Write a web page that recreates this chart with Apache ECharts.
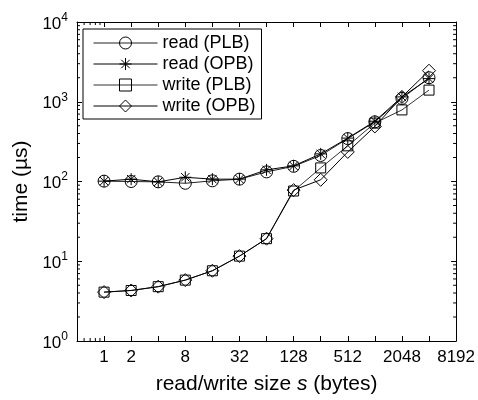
<!DOCTYPE html>
<html>
<head>
<meta charset="utf-8">
<script src="https://cdn.jsdelivr.net/npm/echarts@6.0.0/dist/echarts.min.js"></script>
<style>
  html, body { margin: 0; padding: 0; background: #fff; }
  #chart { width: 478px; height: 400px; }
</style>
</head>
<body>
<div id="chart"></div>
<script>
// read/write size in bytes
const sizes = [1, 2, 4, 8, 16, 32, 64, 128, 256, 512, 1024, 2048, 4096];
// time in microseconds
const readPLB  = [101, 100, 99, 95, 102, 107, 132, 155, 212, 345, 560, 1100, 2000];
const readOPB  = [101, 107, 99, 113, 107, 107, 140, 157, 222, 350, 570, 1150, 1950];
const writePLB = [4.1, 4.3, 4.8, 5.8, 7.6, 11.6, 19.2, 76, 148, 280, 540, 790, 1400];
const writeOPB = [4.1, 4.3, 4.8, 5.8, 7.6, 11.6, 19.2, 78, 105, 235, 490, 1150, 2450];

const xLabels = [1, 2, 8, 32, 128, 512, 2048, 8192];
const yMinorSteps = [2, 3, 4, 5, 6, 7, 8, 9];
const yDecades = [1, 10, 100, 1000];
const xMinorTicks = [0.6, 0.7, 0.8, 0.9];

const FONT = 'Liberation Sans';
const starPath = 'path://M5,0L5,10M0,5L10,5M1.5,1.5L8.5,8.5M1.5,8.5L8.5,1.5';

const chart = echarts.init(document.getElementById('chart'));

const pair = (ys) => sizes.map((s, i) => [s, ys[i]]);

function lineSeries(name, ys, symbol, size, color) {
  return {
    name: name,
    type: 'line',
    data: pair(ys),
    symbol: symbol,
    symbolSize: size,
    showAllSymbol: true,
    itemStyle: { color: 'transparent', borderColor: '#000', borderWidth: 1 },
    lineStyle: { color: color, width: 1 },
    emphasis: { disabled: true },
    z: 3
  };
}

const yMinor = [];
yDecades.forEach(d => yMinorSteps.forEach(m => yMinor.push(d * m)));

// matlab style minor ticks (2..9 per decade) on both sides
const minorTickSeries = {
  type: 'custom',
  silent: true,
  data: yMinor.map(v => [0.5, v]).concat(xMinorTicks.map(v => [v, 1])),
  renderItem: function (params, api) {
    const cs = params.coordSys;
    const idx = params.dataIndex;
    const st = { stroke: '#000', lineWidth: 1 };
    if (idx < yMinor.length) {
      const y = api.coord([0.5, api.value(1)])[1];
      return { type: 'group', children: [
        { type: 'line', shape: { x1: cs.x, y1: y, x2: cs.x + 3, y2: y }, style: st },
        { type: 'line', shape: { x1: cs.x + cs.width - 3, y1: y, x2: cs.x + cs.width, y2: y }, style: st }
      ]};
    }
    const x = api.coord([api.value(0), 1])[0];
    return { type: 'group', children: [
      { type: 'line', shape: { x1: x, y1: cs.y + cs.height, x2: x, y2: cs.y + cs.height - 3 }, style: st },
      { type: 'line', shape: { x1: x, y1: cs.y, x2: x, y2: cs.y + 3 }, style: st }
    ]};
  },
  z: 1
};

const axisBase = {
  axisLine: { show: true, lineStyle: { color: '#000', width: 1 } },
  axisTick: { show: true, inside: true, length: 5, lineStyle: { color: '#000' } },
  splitLine: { show: false },
  minorTick: { show: false },
  minorSplitLine: { show: false }
};

const option = {
  animation: false,
  textStyle: { fontFamily: FONT },
  grid: { left: 77, right: 17, top: 22, bottom: 59 },
  legend: {
    left: 83, top: 29,
    orient: 'vertical',
    itemWidth: 64,
    itemHeight: 15,
    itemGap: 3,
    padding: [5, 6, 4, 10],
    borderColor: '#000',
    borderWidth: 1,
    backgroundColor: '#fff',
    lineStyle: { width: 1 },
    itemStyle: { borderWidth: 1 },
    textStyle: { fontFamily: FONT, fontSize: 18, color: '#000', lineHeight: 18 },
    data: ['read (PLB)', 'read (OPB)', 'write (PLB)', 'write (OPB)']
  },
  xAxis: [
    Object.assign({}, axisBase, {
      type: 'log', logBase: 2, min: 0.5, max: 8192, interval: 1,
      name: 'read/write size {i|s} (bytes)',
      nameLocation: 'middle', nameGap: 33,
      nameTextStyle: { fontFamily: FONT, fontSize: 21, color: '#000',
        rich: { i: { fontFamily: FONT, fontSize: 21, fontStyle: 'italic', color: '#000' } } },
      axisLabel: {
        color: '#000', fontFamily: FONT, fontSize: 17, margin: 8,
        formatter: function (v) {
          const k = Math.round(Math.log2(v));
          return xLabels.indexOf(Math.pow(2, k)) >= 0 ? String(Math.pow(2, k)) : '';
        }
      }
    }),
    Object.assign({}, axisBase, {
      type: 'log', logBase: 2, min: 0.5, max: 8192, interval: 1,
      position: 'top', axisLabel: { show: false }
    })
  ],
  yAxis: [
    Object.assign({}, axisBase, {
      type: 'log', logBase: 10, min: 1, max: 10000,
      name: 'time (\u00b5s)',
      nameLocation: 'middle', nameGap: 36,
      nameTextStyle: { fontFamily: FONT, fontSize: 21, color: '#000' },
      axisLabel: {
        color: '#000', margin: 9,
        formatter: function (v) {
          return '{b|10}{e|' + Math.round(Math.log10(v)) + '}';
        },
        rich: {
          b: { fontFamily: FONT, fontSize: 17, color: '#000', verticalAlign: 'bottom' },
          e: { fontFamily: FONT, fontSize: 12, color: '#000', verticalAlign: 'bottom', padding: [0, 0, 9, 0] }
        }
      }
    }),
    Object.assign({}, axisBase, {
      type: 'log', logBase: 10, min: 1, max: 10000,
      position: 'right', axisLabel: { show: false }
    })
  ],
  series: [
    lineSeries('read (PLB)', readPLB, 'circle', 12, '#222'),
    lineSeries('read (OPB)', readOPB, starPath, 12, '#000'),
    lineSeries('write (PLB)', writePLB, 'rect', 10, '#333'),
    lineSeries('write (OPB)', writeOPB, 'diamond', 13, '#000'),
    minorTickSeries
  ]
};

chart.setOption(option);
</script>
</body>
</html>
